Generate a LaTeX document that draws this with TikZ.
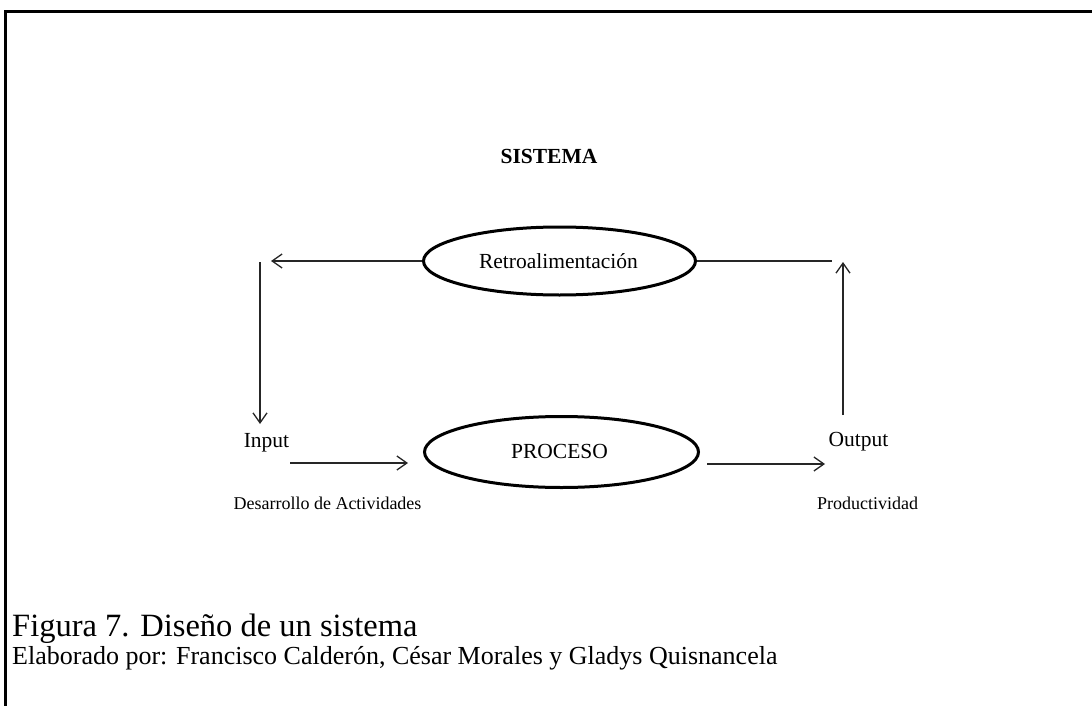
\documentclass[tikz,border=0pt]{standalone}
\usepackage{fontspec}
\setmainfont{Liberation Serif}
\usetikzlibrary{arrows.meta,shapes.geometric}
\begin{document}
\begin{tikzpicture}[x=1pt,y=-1pt,
  ell/.style={draw, ellipse, line width=3pt, inner sep=0pt},
  lbl/.style={anchor=base, inner sep=0pt, font=\fontsize{21.5}{26}\selectfont},
  smalllbl/.style={anchor=base, inner sep=0pt, font=\fontsize{18}{22}\selectfont},
  conn/.style={line width=1.3pt, black!85},
  arr/.style={conn, -{Straight Barb[length=10pt,width=14pt]}},
  frame/.style={line width=3pt, black}
]
\useasboundingbox (0,0) rectangle (1092,706);
% frame
\coordinate (frTR) at (1092,12);
\coordinate (frTL) at (5,12);
\coordinate (frBL) at (5,706);
\draw[frame] (frTR) -- (frTL) -- (frBL);

% title
\node[lbl, font=\fontsize{21.5}{26}\selectfont\bfseries] (title) at (549,163) {SISTEMA};

% ellipses
\node[ell, minimum width=272pt, minimum height=68pt] (retro) at (559.5,261) {};
\node[lbl] (retrotxt) at (558.5,268) {Retroalimentación};
\node[ell, minimum width=274pt, minimum height=71pt] (proc) at (561.5,452) {};
\node[lbl] (proctxt) at (559.5,458) {PROCESO};

% labels
\node[lbl] (input) at (266.5,447) {Input};
\node[lbl] (output) at (858.5,446) {Output};
\node[smalllbl] (desa) at (327.5,509) {Desarrollo de Actividades};
\node[smalllbl] (prod) at (867.5,509) {Productividad};

% connector coordinates
\coordinate (fbL) at (271,261);
\coordinate (fbR) at (832,261);
\coordinate (vLtop) at (260,262);
\coordinate (vLbot) at (260,424);
\coordinate (vRbot) at (843,415);
\coordinate (vRtop) at (843,262);
\coordinate (inA) at (290,463);
\coordinate (inB) at (408,463);
\coordinate (outA) at (707,464);
\coordinate (outB) at (825,464);

\draw[arr] (retro.west) -- (fbL);
\draw[conn] (retro.east) -- (fbR);
\draw[arr] (vLtop) -- (vLbot);
\draw[arr] (vRbot) -- (vRtop);
\draw[arr] (inA) -- (inB);
\draw[arr] (outA) -- (outB);

% caption
\node[anchor=base west, inner sep=0pt, font=\fontsize{32.5}{36}\selectfont] (cap1) at (12,636) {Figura 7. Diseño de un sistema};
\node[anchor=base west, inner sep=0pt, font=\fontsize{26}{30}\selectfont] (cap2) at (12,664) {Elaborado por: Francisco Calderón, César Morales y Gladys Quisnancela};
\end{tikzpicture}
\end{document}
